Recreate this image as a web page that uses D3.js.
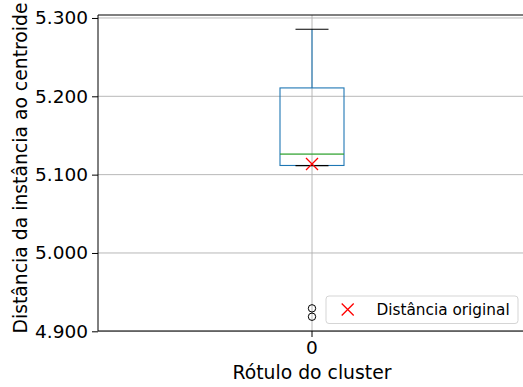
<!DOCTYPE html>
<html>
<head>
<meta charset="utf-8">
<script src="https://cdn.jsdelivr.net/npm/d3@7"></script>
<style>
  html, body { margin: 0; padding: 0; background: #fff; }
  svg { display: block; font-family: "DejaVu Sans", sans-serif; }
</style>
</head>
<body>
<svg id="chart" width="523" height="387"></svg>
<script>
// Cluster labels on the x axis
const clusters = ["0"];
// Box summary per cluster: [whiskerLow, q1, median, q3, whiskerHigh]
const boxStats = [[5.1115, 5.1117, 5.1261, 5.2107, 5.2856]];
// Points beyond the whiskers
const outliers = [[4.9293, 4.9186]];
// Distance of the original instance to the centroid
const originalDistance = [5.1135];
// Y tick values
const yTicks = [4.9, 5.0, 5.1, 5.2, 5.3];
const legendLabel = "Distância original";

const svg = d3.select("#chart");
const margin = { left: 98, top: 15, right: -3, bottom: 56 };
const W = 523, H = 387;
const x0 = margin.left, x1 = W - margin.right;
const y0 = H - margin.bottom, y1 = margin.top;

const x = d3.scaleBand().domain(clusters).range([x0, x1]).paddingInner(0).paddingOuter(0);
const y = d3.scaleLinear().domain([4.9, 5.3038]).range([y0 + 0.3, y1]);

const grid = "#b0b0b0";

// Grid lines
svg.append("g").selectAll("line").data(yTicks).join("line")
  .attr("x1", x0).attr("x2", x1)
  .attr("y1", d => y(d)).attr("y2", d => y(d))
  .attr("stroke", grid).attr("stroke-width", 0.9);
svg.append("g").selectAll("line").data(clusters).join("line")
  .attr("x1", d => x(d) + x.bandwidth() / 2).attr("x2", d => x(d) + x.bandwidth() / 2)
  .attr("y1", y0).attr("y2", y1)
  .attr("stroke", grid).attr("stroke-width", 0.9);

// Axes
const yAxis = d3.axisLeft(y).tickValues(yTicks).tickFormat(d3.format(".3f")).tickSize(6).tickPadding(4);
const gy = svg.append("g").attr("transform", `translate(${x0},0)`).call(yAxis);
gy.select(".domain").remove();
gy.selectAll("text").attr("font-size", 18.5).attr("fill", "#000").attr("font-family", "DejaVu Sans");
gy.selectAll("line").attr("stroke", "#000");

const xAxis = d3.axisBottom(x).tickSize(6).tickPadding(4);
const gx = svg.append("g").attr("transform", `translate(0,${y0})`).call(xAxis);
gx.select(".domain").remove();
gx.selectAll("text").attr("font-size", 18.5).attr("fill", "#000").attr("font-family", "DejaVu Sans");
gx.selectAll("line").attr("stroke", "#000");

// Spines (top, left, bottom)
svg.append("line").attr("x1", x0).attr("x2", x0).attr("y1", y0).attr("y2", y1).attr("stroke", "#000").attr("stroke-width", 1);
svg.append("line").attr("x1", x0).attr("x2", x1).attr("y1", y0).attr("y2", y0).attr("stroke", "#000").attr("stroke-width", 1);
svg.append("line").attr("x1", x0).attr("x2", x1).attr("y1", y1).attr("y2", y1).attr("stroke", "#000").attr("stroke-width", 1);

// Box plots
const boxW = 64, capW = 33;
const blue = "#1f77b4";
clusters.forEach((c, i) => {
  const cx = x(c) + x.bandwidth() / 2;
  const [wl, q1, med, q3, wh] = boxStats[i];
  const g = svg.append("g");
  g.append("line").attr("x1", cx).attr("x2", cx).attr("y1", y(q3)).attr("y2", y(wh)).attr("stroke", blue).attr("stroke-width", 1.1);
  g.append("line").attr("x1", cx).attr("x2", cx).attr("y1", y(q1)).attr("y2", y(wl)).attr("stroke", blue).attr("stroke-width", 1.1);
  g.append("rect").attr("x", cx - boxW / 2).attr("width", boxW)
    .attr("y", y(q3)).attr("height", y(q1) - y(q3))
    .attr("fill", "none").attr("stroke", blue).attr("stroke-width", 1.1);
  g.append("line").attr("x1", cx - boxW / 2).attr("x2", cx + boxW / 2).attr("y1", y(med)).attr("y2", y(med))
    .attr("stroke", "#2ca02c").attr("stroke-width", 1.8).attr("opacity", 0.7);
  [wl, wh].forEach(v => {
    g.append("line").attr("x1", cx - capW / 2).attr("x2", cx + capW / 2).attr("y1", y(v)).attr("y2", y(v))
      .attr("stroke", "#000").attr("stroke-width", 1.1);
  });
  g.selectAll("circle").data(outliers[i]).join("circle")
    .attr("cx", cx).attr("cy", d => y(d)).attr("r", 3.7)
    .attr("fill", "none").attr("stroke", "#000").attr("stroke-width", 1);

  // Original distance marker
  drawX(svg, cx, y(originalDistance[i]));
});

function drawX(sel, cx, cy) {
  const s = 6;
  sel.append("path")
    .attr("d", `M${cx - s},${cy - s}L${cx + s},${cy + s}M${cx - s},${cy + s}L${cx + s},${cy - s}`)
    .attr("stroke", "#ff0000").attr("stroke-width", 1.3).attr("fill", "none");
}

// Legend
const lg = svg.append("g");
lg.append("rect").attr("x", 326).attr("y", 296).attr("width", 192).attr("height", 27.5)
  .attr("rx", 3).attr("fill", "#fff").attr("fill-opacity", 0.8).attr("stroke", "#d5d5d5").attr("stroke-width", 1);
drawX(lg, 347.7, 309.5);
lg.append("text").attr("x", 376.5).attr("y", 309.5).attr("dy", "0.35em")
  .attr("font-size", 15.3).attr("fill", "#000").text(legendLabel);

// Axis titles
svg.append("text").attr("x", (x0 + x1) / 2).attr("y", 378.5).attr("text-anchor", "middle")
  .attr("font-size", 18.8).attr("fill", "#000").text("Rótulo do cluster");
svg.append("text").attr("transform", `translate(27,${(y0 + y1) / 2 - 5}) rotate(-90)`).attr("text-anchor", "middle")
  .attr("font-size", 18.8).attr("fill", "#000").text("Distância da instância ao centroide");
</script>
</body>
</html>
